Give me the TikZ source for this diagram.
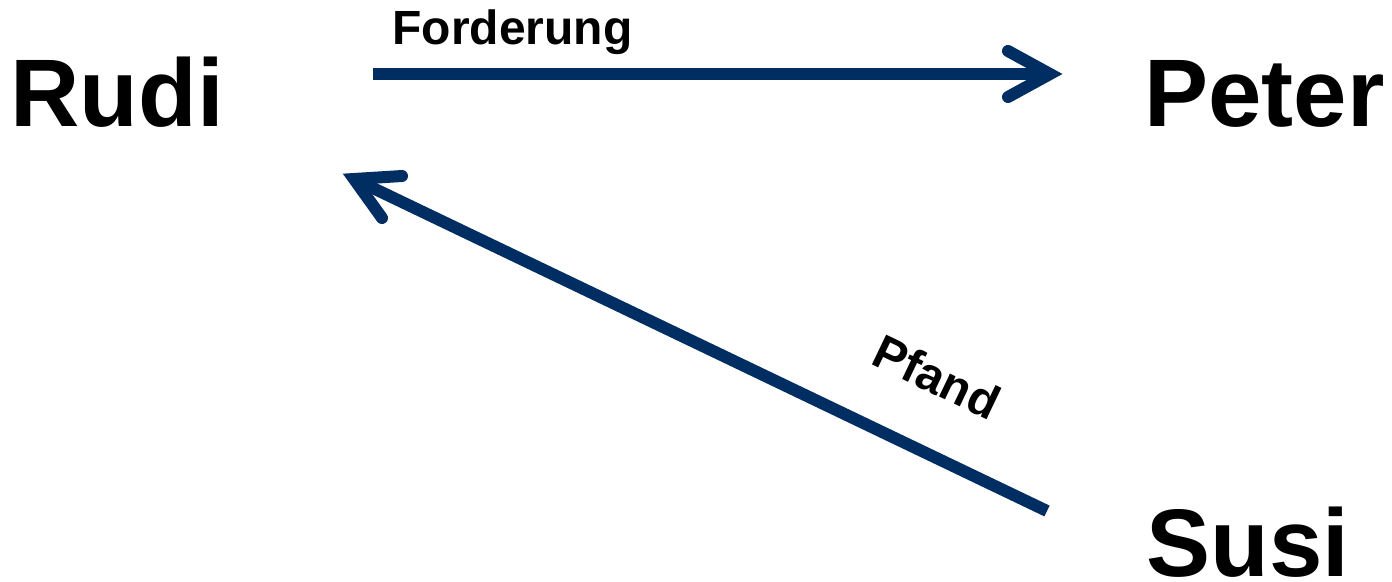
\documentclass[tikz,border=0pt]{standalone}
\usepackage{fontspec}
\setmainfont{Liberation Sans}
\definecolor{navy}{RGB}{0,45,98}
\begin{document}
\begin{tikzpicture}[x=0.5pt,y=-0.5pt,
  person/.style={inner sep=0pt,anchor=base west,font=\fontsize{48}{48}\selectfont\bfseries},
  lbl/.style={inner sep=0pt,font=\fontsize{24}{24}\selectfont\bfseries},
  shaft/.style={draw=navy,line width=6pt,line cap=butt},
  barbs/.style={draw=navy,line width=6pt,line cap=round,line join=miter,miter limit=10}]
\useasboundingbox (0,0) rectangle (1392,582);
\node[person] (rudi) at (10,127) {Rudi};
\node[person] (peter) at (1144,127) {Peter};
\node[person] (susi) at (1146,576) {Susi};
\node[lbl,anchor=base west] (ford) at (392,45) {Forderung};
\node[lbl,rotate=-25.6] (pfand) at (937,377) {Pfand};
% arrow 1
\coordinate (a1s) at (373,74);
\coordinate (a1t) at (1050,74);
\coordinate (a1b) at (1008,51);
\coordinate (a1c) at (1008,97);
\draw[shaft] (a1s) -- (a1t);
\draw[barbs] (a1b) -- (a1t) -- (a1c);
% arrow 2
\coordinate (a2s) at (1047,511);
\coordinate (a2t) at (354,179);
\coordinate (a2b) at (402,176);
\coordinate (a2c) at (382,218);
\draw[shaft] (a2s) -- (a2t);
\draw[barbs] (a2b) -- (a2t) -- (a2c);
\end{tikzpicture}
\end{document}
